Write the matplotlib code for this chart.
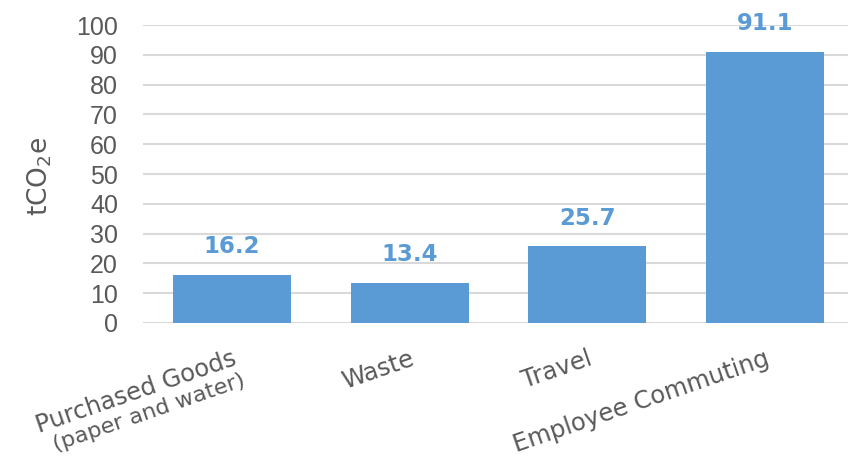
import matplotlib
matplotlib.use("Agg")
import matplotlib.pyplot as plt
import numpy as np

categories = ["Purchased Goods", "Waste", "Travel", "Employee Commuting"]
sub_label = "(paper and water)"
values = [16.2, 13.4, 25.7, 91.1]
value_labels = ["16.2", "13.4", "25.7", "91.1"]
yticks = [0, 10, 20, 30, 40, 50, 60, 70, 80, 90, 100]

BAR = "#5B9BD5"
GRAY = "#595959"
GRID = "#D9D9D9"

plt.rcParams['font.family'] = ['DejaVu Sans']

fig = plt.figure(figsize=(8.48, 4.58), dpi=100)
W, H = 848, 458
left, right = 143, 854
bottom, top = 323, 25
ax = fig.add_axes([left / W, (H - bottom) / H, (right - left) / W, (bottom - top) / H])

x = np.arange(len(categories))
ax.bar(x, values, width=0.665, color=BAR, zorder=3)
ax.set_xlim(-0.5, len(categories) - 0.5)
ax.set_ylim(0, 100)
ax.set_yticks(yticks)
ax.set_yticklabels([str(t) for t in yticks], fontfamily='Liberation Sans')
ax.yaxis.grid(True, color=GRID, linewidth=1.5, zorder=0)
ax.set_axisbelow(True)
for s in ax.spines.values():
    s.set_visible(False)
ax.tick_params(axis='y', length=0, pad=18, labelsize=18, labelcolor=GRAY)
ax.tick_params(axis='x', length=0, pad=17, labelsize=17.5, labelcolor=GRAY)

rot = 19
ax.set_xticks(x)
ax.set_xticklabels(categories, rotation=rot, ha='right', va='top', rotation_mode='anchor')

ang = np.deg2rad(rot)
d = 25  # px perpendicular offset of the sub line
ax.annotate(sub_label, xy=(x[0], 0), xycoords=('data', 'data'),
            xytext=(d * np.sin(ang) * 0.72 + 1, -17 - d * np.cos(ang) * 0.72),
            textcoords='offset points', rotation=rot, ha='right', va='top',
            rotation_mode='anchor', fontsize=16, color=GRAY, annotation_clip=False)

for xi, v, lab in zip(x, values, value_labels):
    ax.annotate(lab, xy=(xi, v), xytext=(0, 12), textcoords='offset points',
                ha='center', va='bottom', fontsize=16.5, fontweight='bold', color=BAR,
                annotation_clip=False)

ax.text((40 - left) / (right - left), (bottom - 176) / (bottom - top), r'tCO$_2$e',
        transform=ax.transAxes, rotation=90, ha='center', va='center',
        fontsize=19, color=GRAY)

fig.savefig("out.png", dpi=100)
